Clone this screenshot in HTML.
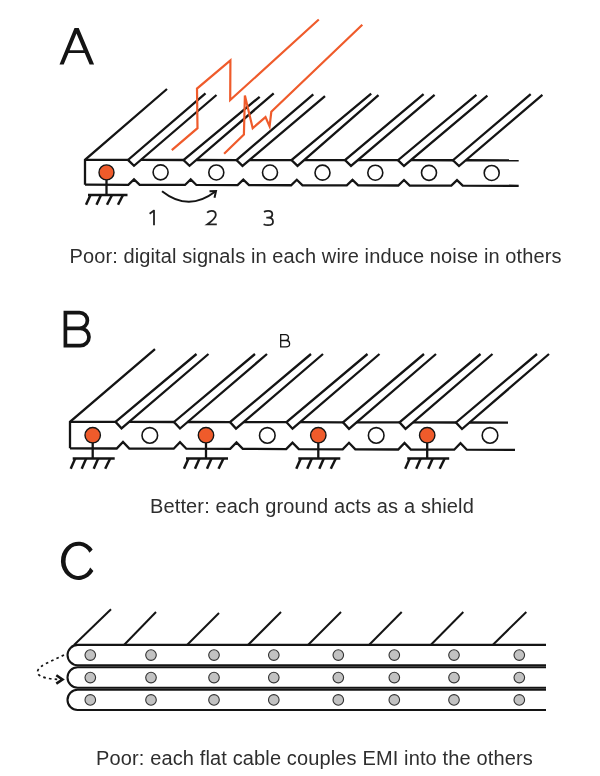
<!DOCTYPE html>
<html><head><meta charset="utf-8"><style>
html,body{margin:0;padding:0;background:#fff;}
svg{display:block;will-change:transform;}
text{font-family:"Liberation Sans",sans-serif;fill:#2e2e2e;}
</style></head><body>
<svg width="600" height="776" viewBox="0 0 600 776" stroke-linecap="butt" stroke-linejoin="miter">
<rect width="600" height="776" fill="#fff"/>
<path d="M167.00,89.00 L85.00,159.90 L85.00,184.70" stroke="#141414" stroke-width="2.3" fill="none" />
<path d="M85.00,159.90 L128.00,159.94" stroke="#141414" stroke-width="2.3" fill="none" />
<path d="M205.50,93.30 L128.00,159.94 L134.00,165.75 L216.50,95.00" stroke="#141414" stroke-width="2.3" fill="none" />
<path d="M141.00,159.95 L183.50,159.99" stroke="#141414" stroke-width="2.3" fill="none" />
<path d="M259.70,96.80 L183.50,159.99 L189.50,165.80 L273.70,93.40" stroke="#141414" stroke-width="2.3" fill="none" />
<path d="M196.50,160.00 L236.50,160.04" stroke="#141414" stroke-width="2.3" fill="none" />
<path d="M313.30,94.30 L236.50,160.04 L242.50,165.85 L325.00,96.20" stroke="#141414" stroke-width="2.3" fill="none" />
<path d="M249.50,160.05 L291.50,160.09" stroke="#141414" stroke-width="2.3" fill="none" />
<path d="M371.20,93.70 L291.50,160.09 L297.50,165.90 L378.50,95.20" stroke="#141414" stroke-width="2.3" fill="none" />
<path d="M304.50,160.10 L345.00,160.14" stroke="#141414" stroke-width="2.3" fill="none" />
<path d="M423.60,94.10 L345.00,160.14 L351.00,165.95 L434.60,94.80" stroke="#141414" stroke-width="2.3" fill="none" />
<path d="M358.00,160.15 L398.00,160.19" stroke="#141414" stroke-width="2.3" fill="none" />
<path d="M476.40,94.80 L398.00,160.19 L404.00,165.99 L487.40,95.60" stroke="#141414" stroke-width="2.3" fill="none" />
<path d="M411.00,160.20 L453.00,160.24" stroke="#141414" stroke-width="2.3" fill="none" />
<path d="M530.70,94.10 L453.00,160.24 L459.00,166.04 L542.40,94.80" stroke="#141414" stroke-width="2.3" fill="none" />
<path d="M466.00,160.25 L518.70,160.30" stroke="#141414" stroke-width="2.3" fill="none" />
<path d="M85.00,184.70 L128.30,184.82 L134.00,179.32 L139.70,184.82 L185.00,184.97 L190.70,179.47 L196.40,184.97 L237.60,185.10 L243.30,179.60 L249.00,185.10 L291.10,185.24 L296.80,179.74 L302.50,185.24 L346.80,185.38 L352.50,179.88 L358.20,185.38 L398.30,185.51 L404.00,180.01 L409.70,185.51 L451.30,185.64 L457.00,180.14 L462.70,185.64 L518.70,185.80" stroke="#141414" stroke-width="2.3" fill="none" />
<circle cx="106.5" cy="172.4" r="7.5" fill="#EF5B2B" stroke="#141414" stroke-width="1.4"/>
<circle cx="160.6" cy="172.34" r="7.5" fill="#fff" stroke="#141414" stroke-width="1.6"/>
<circle cx="216.3" cy="172.44" r="7.5" fill="#fff" stroke="#141414" stroke-width="1.6"/>
<circle cx="270" cy="172.54" r="7.5" fill="#fff" stroke="#141414" stroke-width="1.6"/>
<circle cx="322.5" cy="172.64" r="7.5" fill="#fff" stroke="#141414" stroke-width="1.6"/>
<circle cx="375.3" cy="172.74" r="7.5" fill="#fff" stroke="#141414" stroke-width="1.6"/>
<circle cx="429" cy="172.83" r="7.5" fill="#fff" stroke="#141414" stroke-width="1.6"/>
<circle cx="491.7" cy="172.95" r="7.5" fill="#fff" stroke="#141414" stroke-width="1.6"/>
<path d="M106.50,180.00 L106.50,195.00" stroke="#141414" stroke-width="2.3" fill="none" />
<path d="M88.00,195.00 L127.50,195.00" stroke="#141414" stroke-width="2.3" fill="none" />
<path d="M90.50,195.00 L86.00,204.80" stroke="#141414" stroke-width="2.5" fill="none" />
<path d="M101.00,195.00 L96.50,204.80" stroke="#141414" stroke-width="2.5" fill="none" />
<path d="M112.00,195.00 L107.00,204.80" stroke="#141414" stroke-width="2.5" fill="none" />
<path d="M123.00,195.00 L118.00,204.80" stroke="#141414" stroke-width="2.5" fill="none" />
<path d="M171.80,150.10 L197.50,128.20 L197.00,88.60 L230.40,60.30 L230.20,100.10 L318.80,19.50" stroke="#EF5B2B" stroke-width="2.2" fill="none" />
<path d="M224.10,153.80 L243.90,134.60 L244.90,95.50 L252.70,128.20 L265.50,117.10 L269.60,126.40 L271.30,111.80 L362.30,24.70" stroke="#EF5B2B" stroke-width="2.2" fill="none" />
<path d="M162,191.2 Q188.5,212 215,191.75" stroke="#141414" stroke-width="2" fill="none"/>
<path d="M209.50,191.30 L216.00,191.00 L214.50,197.80" stroke="#141414" stroke-width="2" fill="none" />
<path d="M155.00,349.20 L70.00,421.80 L70.00,448.30" stroke="#141414" stroke-width="2.3" fill="none" />
<path d="M70.00,421.80 L115.50,421.88" stroke="#141414" stroke-width="2.3" fill="none" />
<path d="M196.50,354.00 L115.50,421.88 L121.50,428.39 L208.50,354.00" stroke="#141414" stroke-width="2.3" fill="none" />
<path d="M129.00,421.91 L174.00,421.99" stroke="#141414" stroke-width="2.3" fill="none" />
<path d="M255.00,354.00 L174.00,421.99 L180.00,428.50 L267.00,354.00" stroke="#141414" stroke-width="2.3" fill="none" />
<path d="M187.50,422.01 L230.00,422.09" stroke="#141414" stroke-width="2.3" fill="none" />
<path d="M311.00,354.00 L230.00,422.09 L236.00,428.60 L323.00,354.00" stroke="#141414" stroke-width="2.3" fill="none" />
<path d="M243.50,422.11 L286.50,422.19" stroke="#141414" stroke-width="2.3" fill="none" />
<path d="M367.50,354.00 L286.50,422.19 L292.50,428.70 L379.50,354.00" stroke="#141414" stroke-width="2.3" fill="none" />
<path d="M300.00,422.21 L343.00,422.29" stroke="#141414" stroke-width="2.3" fill="none" />
<path d="M424.00,354.00 L343.00,422.29 L349.00,428.80 L436.00,354.00" stroke="#141414" stroke-width="2.3" fill="none" />
<path d="M356.50,422.32 L399.50,422.39" stroke="#141414" stroke-width="2.3" fill="none" />
<path d="M480.50,354.00 L399.50,422.39 L405.50,428.90 L492.50,354.00" stroke="#141414" stroke-width="2.3" fill="none" />
<path d="M413.00,422.42 L456.00,422.49" stroke="#141414" stroke-width="2.3" fill="none" />
<path d="M537.00,354.00 L456.00,422.49 L462.00,429.00 L549.00,354.00" stroke="#141414" stroke-width="2.3" fill="none" />
<path d="M469.50,422.52 L508.00,422.59" stroke="#141414" stroke-width="2.3" fill="none" />
<path d="M70.00,448.30 L116.70,448.49 L123.00,441.99 L129.30,448.49 L173.70,448.70 L180.00,442.20 L186.30,448.70 L230.20,448.90 L236.50,442.40 L242.80,448.90 L286.20,449.10 L292.50,442.60 L298.80,449.10 L342.70,449.30 L349.00,442.80 L355.30,449.30 L398.20,449.50 L404.50,443.00 L410.80,449.50 L454.20,449.70 L460.50,443.20 L466.80,449.70 L515.00,449.90" stroke="#141414" stroke-width="2.3" fill="none" />
<circle cx="92.7" cy="435.2" r="7.7" fill="#EF5B2B" stroke="#141414" stroke-width="1.4"/>
<path d="M92.70,443.00 L92.70,458.50" stroke="#141414" stroke-width="2.3" fill="none" />
<path d="M72.70,458.50 L114.70,458.50" stroke="#141414" stroke-width="2.3" fill="none" />
<path d="M75.20,458.50 L70.70,468.80" stroke="#141414" stroke-width="2.5" fill="none" />
<path d="M86.20,458.50 L81.70,468.80" stroke="#141414" stroke-width="2.5" fill="none" />
<path d="M98.20,458.50 L93.70,468.80" stroke="#141414" stroke-width="2.5" fill="none" />
<path d="M110.20,458.50 L105.20,468.80" stroke="#141414" stroke-width="2.5" fill="none" />
<circle cx="206" cy="435.2" r="7.7" fill="#EF5B2B" stroke="#141414" stroke-width="1.4"/>
<path d="M206.00,443.00 L206.00,458.50" stroke="#141414" stroke-width="2.3" fill="none" />
<path d="M186.00,458.50 L228.00,458.50" stroke="#141414" stroke-width="2.3" fill="none" />
<path d="M188.50,458.50 L184.00,468.80" stroke="#141414" stroke-width="2.5" fill="none" />
<path d="M199.50,458.50 L195.00,468.80" stroke="#141414" stroke-width="2.5" fill="none" />
<path d="M211.50,458.50 L207.00,468.80" stroke="#141414" stroke-width="2.5" fill="none" />
<path d="M223.50,458.50 L218.50,468.80" stroke="#141414" stroke-width="2.5" fill="none" />
<circle cx="318.3" cy="435.2" r="7.7" fill="#EF5B2B" stroke="#141414" stroke-width="1.4"/>
<path d="M318.30,443.00 L318.30,458.50" stroke="#141414" stroke-width="2.3" fill="none" />
<path d="M298.30,458.50 L340.30,458.50" stroke="#141414" stroke-width="2.3" fill="none" />
<path d="M300.80,458.50 L296.30,468.80" stroke="#141414" stroke-width="2.5" fill="none" />
<path d="M311.80,458.50 L307.30,468.80" stroke="#141414" stroke-width="2.5" fill="none" />
<path d="M323.80,458.50 L319.30,468.80" stroke="#141414" stroke-width="2.5" fill="none" />
<path d="M335.80,458.50 L330.80,468.80" stroke="#141414" stroke-width="2.5" fill="none" />
<circle cx="427.2" cy="435.2" r="7.7" fill="#EF5B2B" stroke="#141414" stroke-width="1.4"/>
<path d="M427.20,443.00 L427.20,458.50" stroke="#141414" stroke-width="2.3" fill="none" />
<path d="M407.20,458.50 L449.20,458.50" stroke="#141414" stroke-width="2.3" fill="none" />
<path d="M409.70,458.50 L405.20,468.80" stroke="#141414" stroke-width="2.5" fill="none" />
<path d="M420.70,458.50 L416.20,468.80" stroke="#141414" stroke-width="2.5" fill="none" />
<path d="M432.70,458.50 L428.20,468.80" stroke="#141414" stroke-width="2.5" fill="none" />
<path d="M444.70,458.50 L439.70,468.80" stroke="#141414" stroke-width="2.5" fill="none" />
<circle cx="149.8" cy="435.4" r="7.8" fill="#fff" stroke="#141414" stroke-width="1.6"/>
<circle cx="267.3" cy="435.4" r="7.8" fill="#fff" stroke="#141414" stroke-width="1.6"/>
<circle cx="376.2" cy="435.4" r="7.8" fill="#fff" stroke="#141414" stroke-width="1.6"/>
<circle cx="490" cy="435.4" r="7.8" fill="#fff" stroke="#141414" stroke-width="1.6"/>
<path d="M546,644.9 H77.69999999999999 A10.199999999999989,10.199999999999989 0 0 0 77.69999999999999,665.3 H546" stroke="#141414" stroke-width="2.1" fill="none"/>
<path d="M546,667.3 H77.75 A10.25,10.25 0 0 0 77.75,687.8 H546" stroke="#141414" stroke-width="2.1" fill="none"/>
<path d="M546,689.8 H77.60000000000002 A10.100000000000023,10.100000000000023 0 0 0 77.60000000000002,710.0 H546" stroke="#141414" stroke-width="2.1" fill="none"/>
<circle cx="90.3" cy="655.10" r="5.3" fill="#c2c2c2" stroke="#333" stroke-width="1.1"/>
<circle cx="151" cy="655.10" r="5.3" fill="#c2c2c2" stroke="#333" stroke-width="1.1"/>
<circle cx="214" cy="655.10" r="5.3" fill="#c2c2c2" stroke="#333" stroke-width="1.1"/>
<circle cx="273.8" cy="655.10" r="5.3" fill="#c2c2c2" stroke="#333" stroke-width="1.1"/>
<circle cx="338.3" cy="655.10" r="5.3" fill="#c2c2c2" stroke="#333" stroke-width="1.1"/>
<circle cx="394.3" cy="655.10" r="5.3" fill="#c2c2c2" stroke="#333" stroke-width="1.1"/>
<circle cx="454" cy="655.10" r="5.3" fill="#c2c2c2" stroke="#333" stroke-width="1.1"/>
<circle cx="519.3" cy="655.10" r="5.3" fill="#c2c2c2" stroke="#333" stroke-width="1.1"/>
<circle cx="90.3" cy="677.55" r="5.3" fill="#c2c2c2" stroke="#333" stroke-width="1.1"/>
<circle cx="151" cy="677.55" r="5.3" fill="#c2c2c2" stroke="#333" stroke-width="1.1"/>
<circle cx="214" cy="677.55" r="5.3" fill="#c2c2c2" stroke="#333" stroke-width="1.1"/>
<circle cx="273.8" cy="677.55" r="5.3" fill="#c2c2c2" stroke="#333" stroke-width="1.1"/>
<circle cx="338.3" cy="677.55" r="5.3" fill="#c2c2c2" stroke="#333" stroke-width="1.1"/>
<circle cx="394.3" cy="677.55" r="5.3" fill="#c2c2c2" stroke="#333" stroke-width="1.1"/>
<circle cx="454" cy="677.55" r="5.3" fill="#c2c2c2" stroke="#333" stroke-width="1.1"/>
<circle cx="519.3" cy="677.55" r="5.3" fill="#c2c2c2" stroke="#333" stroke-width="1.1"/>
<circle cx="90.3" cy="699.90" r="5.3" fill="#c2c2c2" stroke="#333" stroke-width="1.1"/>
<circle cx="151" cy="699.90" r="5.3" fill="#c2c2c2" stroke="#333" stroke-width="1.1"/>
<circle cx="214" cy="699.90" r="5.3" fill="#c2c2c2" stroke="#333" stroke-width="1.1"/>
<circle cx="273.8" cy="699.90" r="5.3" fill="#c2c2c2" stroke="#333" stroke-width="1.1"/>
<circle cx="338.3" cy="699.90" r="5.3" fill="#c2c2c2" stroke="#333" stroke-width="1.1"/>
<circle cx="394.3" cy="699.90" r="5.3" fill="#c2c2c2" stroke="#333" stroke-width="1.1"/>
<circle cx="454" cy="699.90" r="5.3" fill="#c2c2c2" stroke="#333" stroke-width="1.1"/>
<circle cx="519.3" cy="699.90" r="5.3" fill="#c2c2c2" stroke="#333" stroke-width="1.1"/>
<path d="M74.00,645.00 L111.00,609.30" stroke="#141414" stroke-width="2" fill="none" />
<path d="M124.00,645.00 L156.00,612.00" stroke="#141414" stroke-width="2" fill="none" />
<path d="M187.00,645.00 L219.00,613.00" stroke="#141414" stroke-width="2" fill="none" />
<path d="M248.00,645.00 L281.00,612.00" stroke="#141414" stroke-width="2" fill="none" />
<path d="M308.00,645.00 L341.00,612.00" stroke="#141414" stroke-width="2" fill="none" />
<path d="M369.00,645.00 L401.70,612.00" stroke="#141414" stroke-width="2" fill="none" />
<path d="M430.70,645.00 L463.30,612.00" stroke="#141414" stroke-width="2" fill="none" />
<path d="M492.70,645.00 L526.30,612.00" stroke="#141414" stroke-width="2" fill="none" />
<path d="M64,655 L46,663.5 Q34,670 39,675 Q44,679 61,679.5" stroke="#141414" stroke-width="1.7" fill="none" stroke-dasharray="2.6,3.2"/>
<path d="M56.30,675.20 L62.50,679.50 L56.30,683.60" stroke="#141414" stroke-width="2.6" fill="none" />
<path fill-rule="evenodd" fill="#141414" d="M59.5,64.6 L74.5,28 L78.7,28 L94.1,64.6 L89.6,64.6 L84.7,53 L68.5,53 L63.7,64.6 Z M69.6,50.2 L83.55,50.2 L76.5,33.4 Z"/>
<path d="M79.55,328.3 H65.4 V312.6 H79.55 A7.85,7.85 0 0 1 79.55,328.3 M65.4,328.3 V345.7 H80.3 A8.7,8.7 0 0 0 80.3,328.3 H65.4" stroke="#141414" stroke-width="3.7" fill="none" stroke-linejoin="miter"/>
<path fill="#141414" d="M92.7,549.5 A17.6,19.1 0 1 0 93.4,571 L90.2,567.5 A13,15.2 0 1 1 89.5,552.7 Z"/>
<path d="M286,340.5 H280.7 V334.7 H285.6 A2.9,2.9 0 0 1 285.6,340.5 M280.7,340.5 V346.8 H286 A3.6,3.15 0 0 0 286,340.5 H280.7" stroke="#141414" stroke-width="1.3" fill="none"/>
<path d="M149.6,213.8 L154,210.6 V225.3" stroke="#222" stroke-width="1.8" fill="none" stroke-linejoin="round"/>
<path d="M207.1,212.7 C208.4,211.4 210,210.9 211.6,210.9 C214.3,210.9 215.8,212.6 215.8,214.9 C215.8,217.6 213.6,219.8 207.2,224.4 H216.8" stroke="#222" stroke-width="1.8" fill="none"/>
<path d="M264,211.9 C265.2,211.2 266.8,210.9 268.3,210.9 C271,210.9 272.3,212.3 272.3,214.3 C272.3,216.4 270.4,217.7 267.8,217.7 H266.3 M267.8,217.7 C270.9,217.7 273,219.4 273,221.7 C273,223.7 271.2,225.2 268,225.2 C266.4,225.2 264.8,224.8 263.6,224.2" stroke="#222" stroke-width="1.8" fill="none"/>
<text x="69.5" y="263.3" font-size="20" letter-spacing="0.11">Poor: digital signals in each wire induce noise in others</text>
<text x="150" y="512.8" font-size="20" letter-spacing="0.135">Better: each ground acts as a shield</text>
<text x="96" y="765" font-size="20" letter-spacing="0.135">Poor: each flat cable couples EMI into the others</text>
</svg>
</body></html>
